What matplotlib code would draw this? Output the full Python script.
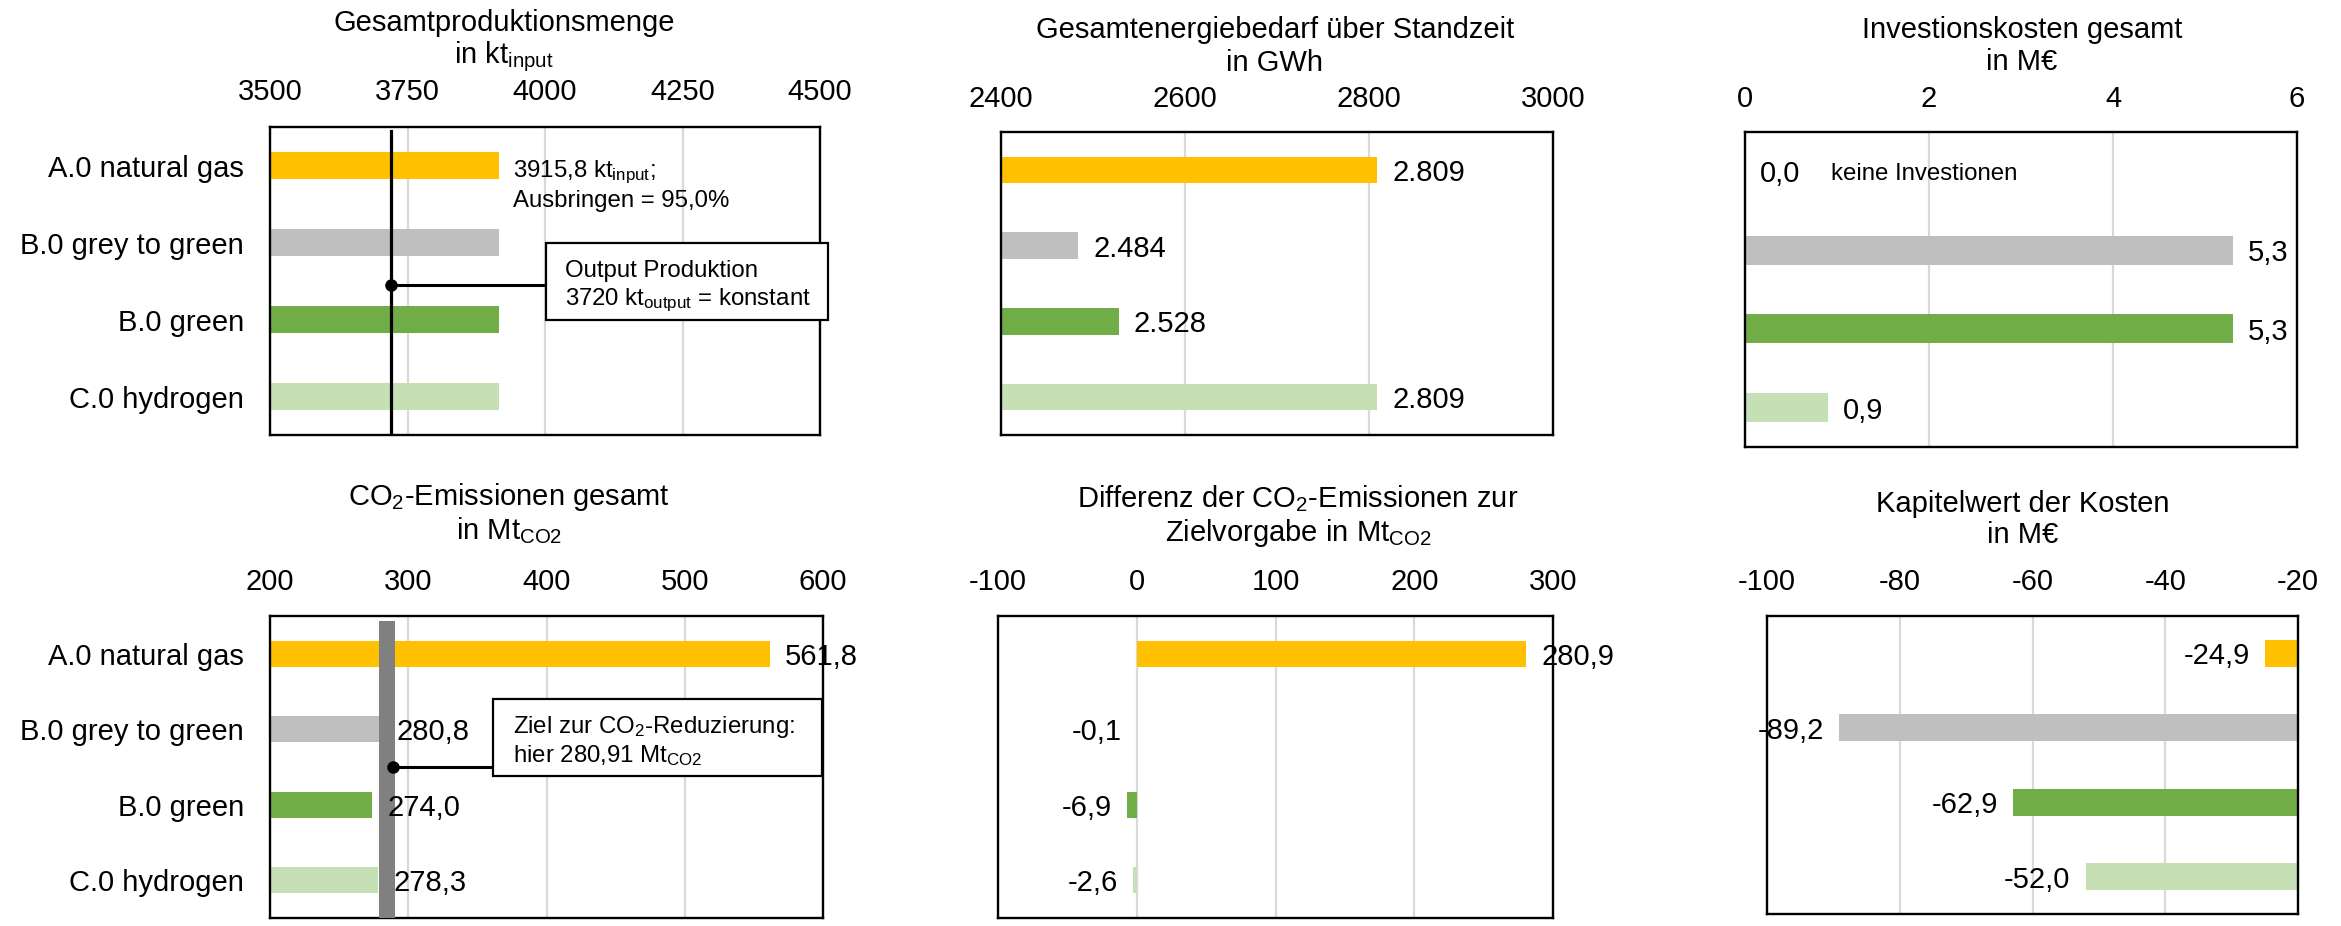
import matplotlib
matplotlib.use("Agg")
import matplotlib.pyplot as plt
from matplotlib.patches import Rectangle
from matplotlib.transforms import Affine2D

plt.rcParams["font.family"] = ["Liberation Sans", "DejaVu Sans"]
plt.rcParams["mathtext.fontset"] = "custom"
plt.rcParams["mathtext.rm"] = "Liberation Sans"
plt.rcParams["mathtext.it"] = "Liberation Sans"
plt.rcParams["mathtext.default"] = "regular"

# ---- data ----
categories = ["A.0 natural gas", "B.0 grey to green", "B.0 green", "C.0 hydrogen"]
colors = ["#FFC000", "#BFBFBF", "#70AD47", "#C5E0B4"]

production_kt = [3915.8, 3915.8, 3915.8, 3915.8]
output_kt = 3720
yield_pct = 95.0
energy_gwh = [2809, 2484, 2528, 2809]
invest_meur = [0.0, 5.3, 5.3, 0.9]
co2_mt = [561.8, 280.8, 274.0, 278.3]
co2_target_mt = 280.91
co2_band = (279.0, 290.4)
co2_diff_mt = [280.9, -0.1, -6.9, -2.6]
npv_meur = [-24.9, -89.2, -62.9, -52.0]
npv_axis = -20

prod_ticks = [3500, 3750, 4000, 4250, 4500]
energy_ticks = [2400, 2600, 2800, 3000]
invest_ticks = [0, 2, 4, 6]
co2_ticks = [200, 300, 400, 500, 600]
diff_ticks = [-100, 0, 100, 200, 300]
npv_ticks = [-100, -80, -60, -40, -20]

W, H = 2341, 926
FS = 21
FS_NOTE = 17.3
OFF = 10.8  # label offset from bar end, points

fig = plt.figure(figsize=(W / 100, H / 100), dpi=100)
pix = Affine2D().scale(1 / W, -1 / H).translate(0, 1) + fig.transFigure


def de1(v):
    return f"{v:.1f}".replace(".", ",")


def de_thousands(v):
    return f"{v:,.0f}".replace(",", ".")


def make_axes(x0, x1, y0, y1, ticks, pad, labels=False):
    ax = fig.add_axes([x0 / W, 1 - y1 / H, (x1 - x0) / W, (y1 - y0) / H])
    ax.set_xlim(ticks[0], ticks[-1])
    ax.set_ylim(3.5, -0.5)
    ax.xaxis.tick_top()
    ax.set_xticks(ticks)
    ax.set_xticklabels([str(t) for t in ticks])
    ax.tick_params(axis="x", length=0, pad=pad, labelsize=FS)
    ax.set_yticks(range(len(categories)))
    if labels:
        ax.set_yticklabels(categories)
    else:
        ax.set_yticklabels([])
    ax.tick_params(axis="y", length=0, pad=18.7, labelsize=FS)
    ax.grid(axis="x", color="#D9D9D9", linewidth=1.6)
    ax.set_axisbelow(True)
    for s in ax.spines.values():
        s.set_linewidth(1.7)
        s.set_color("black")
    return ax


def title(x, y1, y2, l1, l2):
    fig.text(x / W, 1 - y1 / H, l1, ha="center", va="baseline", fontsize=FS)
    fig.text(x / W, 1 - y2 / H, l2, ha="center", va="baseline", fontsize=FS)


def label(ax, x, y, s, side="right"):
    dx = OFF if side == "right" else -OFF
    ax.annotate(s, (x, y), xytext=(dx, 0), textcoords="offset points",
                ha="left" if side == "right" else "right",
                va="center_baseline", fontsize=FS, annotation_clip=False)


def callout(x0, x1, y0, y1):
    fig.patches.append(Rectangle((x0, y0), x1 - x0, y1 - y0, transform=pix,
                                 facecolor="white", edgecolor="black",
                                 linewidth=1.6, zorder=5))


ypos = list(range(len(categories)))

# ---- Gesamtproduktionsmenge ----
ax1 = make_axes(270, 820, 127, 435, prod_ticks, 15.0, labels=True)
ax1.barh(ypos, [v - prod_ticks[0] for v in production_kt], left=prod_ticks[0],
         height=0.35, color=colors, zorder=2)
ax1.axvline(output_kt, ymin=0, ymax=0.987, color="black", linewidth=2.3, zorder=4)
ax1.annotate(f"{de1(production_kt[0])} kt$_{{input}}$;", (production_kt[0], 0),
             xytext=(10, -8.6), textcoords="offset points", ha="left",
             va="baseline", fontsize=FS_NOTE)
ax1.annotate(f"Ausbringen = {de1(yield_pct)}%", (production_kt[0], 0),
             xytext=(10, -30.2), textcoords="offset points", ha="left",
             va="baseline", fontsize=FS_NOTE)
ax1.plot([output_kt, 4001], [1.55, 1.55], color="black", linewidth=2.2,
         clip_on=False, zorder=5)
ax1.plot([output_kt], [1.55], "o", color="black", markersize=8, zorder=6,
         clip_on=False)
callout(546, 828, 243, 320)
fig.text(565 / W, 1 - 277 / H, "Output Produktion", fontsize=FS_NOTE,
         va="baseline", zorder=6)
fig.text(565 / W, 1 - 305 / H, f"{output_kt} kt$_{{output}}$ = konstant",
         fontsize=FS_NOTE, va="baseline", zorder=6)
title(504, 31, 63, "Gesamtproduktionsmenge", "in kt$_{input}$")

# ---- Gesamtenergiebedarf ----
ax2 = make_axes(1001, 1553, 132, 435, energy_ticks, 13.5)
ax2.barh(ypos, [v - energy_ticks[0] for v in energy_gwh], left=energy_ticks[0],
         height=0.35, color=colors, zorder=2)
for y, v in zip(ypos, energy_gwh):
    label(ax2, v, y, de_thousands(v))
title(1275, 38, 71, "Gesamtenergiebedarf über Standzeit", "in GWh")

# ---- Investionskosten ----
ax3 = make_axes(1745, 2297, 132, 447, invest_ticks, 13.5)
ax3.barh(ypos, invest_meur, height=0.37, color=colors, zorder=2)
for y, v in zip(ypos, invest_meur):
    label(ax3, v, y, de1(v))
ax3.annotate("keine Investionen", (invest_meur[0], 0), xytext=(62, 0),
             textcoords="offset points", ha="left", va="center_baseline",
             fontsize=FS_NOTE)
title(2022, 38, 70, "Investionskosten gesamt", "in M€")

# ---- CO2-Emissionen ----
ax4 = make_axes(270, 823, 616, 918, co2_ticks, 14.3, labels=True)
ax4.barh(ypos, [v - co2_ticks[0] for v in co2_mt], left=co2_ticks[0],
         height=0.35, color=colors, zorder=2)
ax4.axvspan(co2_band[0], co2_band[1], ymin=0, ymax=0.983, color="#808080",
            linewidth=0, zorder=3)
for y, v in zip(ypos, co2_mt):
    label(ax4, v, y, de1(v))
ax4.plot([co2_band[1] - 1.1, 361.3], [1.5, 1.5], color="black", linewidth=2.2,
         clip_on=False, zorder=5)
ax4.plot([co2_band[1] - 1.1], [1.5], "o", color="black", markersize=8, zorder=6)
callout(493, 822, 699, 776)
fig.text(513 / W, 1 - 733 / H, "Ziel zur CO$_2$-Reduzierung:", fontsize=FS_NOTE,
         va="baseline", zorder=6)
fig.text(513 / W, 1 - 762 / H, f"hier {co2_target_mt:.2f} Mt$_{{CO2}}$".replace(".", ","),
         fontsize=FS_NOTE, va="baseline", zorder=6)
title(509, 505, 539, "CO$_2$-Emissionen gesamt", "in Mt$_{CO2}$")

# ---- Differenz zur Zielvorgabe ----
ax5 = make_axes(998, 1553, 616, 918, diff_ticks, 14.3)
ax5.barh(ypos, co2_diff_mt, height=0.35, color=colors, zorder=2)
for y, v in zip(ypos, co2_diff_mt):
    label(ax5, v, y, de1(v), side="right" if v >= 0 else "left")
title(1298, 507, 541, "Differenz der CO$_2$-Emissionen zur",
      "Zielvorgabe in Mt$_{CO2}$")

# ---- Kapitalwert ----
ax6 = make_axes(1767, 2298, 616, 914, npv_ticks, 14.3)
ax6.barh(ypos, [v - npv_axis for v in npv_meur], left=npv_axis,
         height=0.36, color=colors, zorder=2)
for y, v in zip(ypos, npv_meur):
    label(ax6, v, y, de1(v), side="left")
title(2023, 512, 543, "Kapitelwert der Kosten", "in M€")

fig.savefig("out.png", dpi=100, facecolor="white")
